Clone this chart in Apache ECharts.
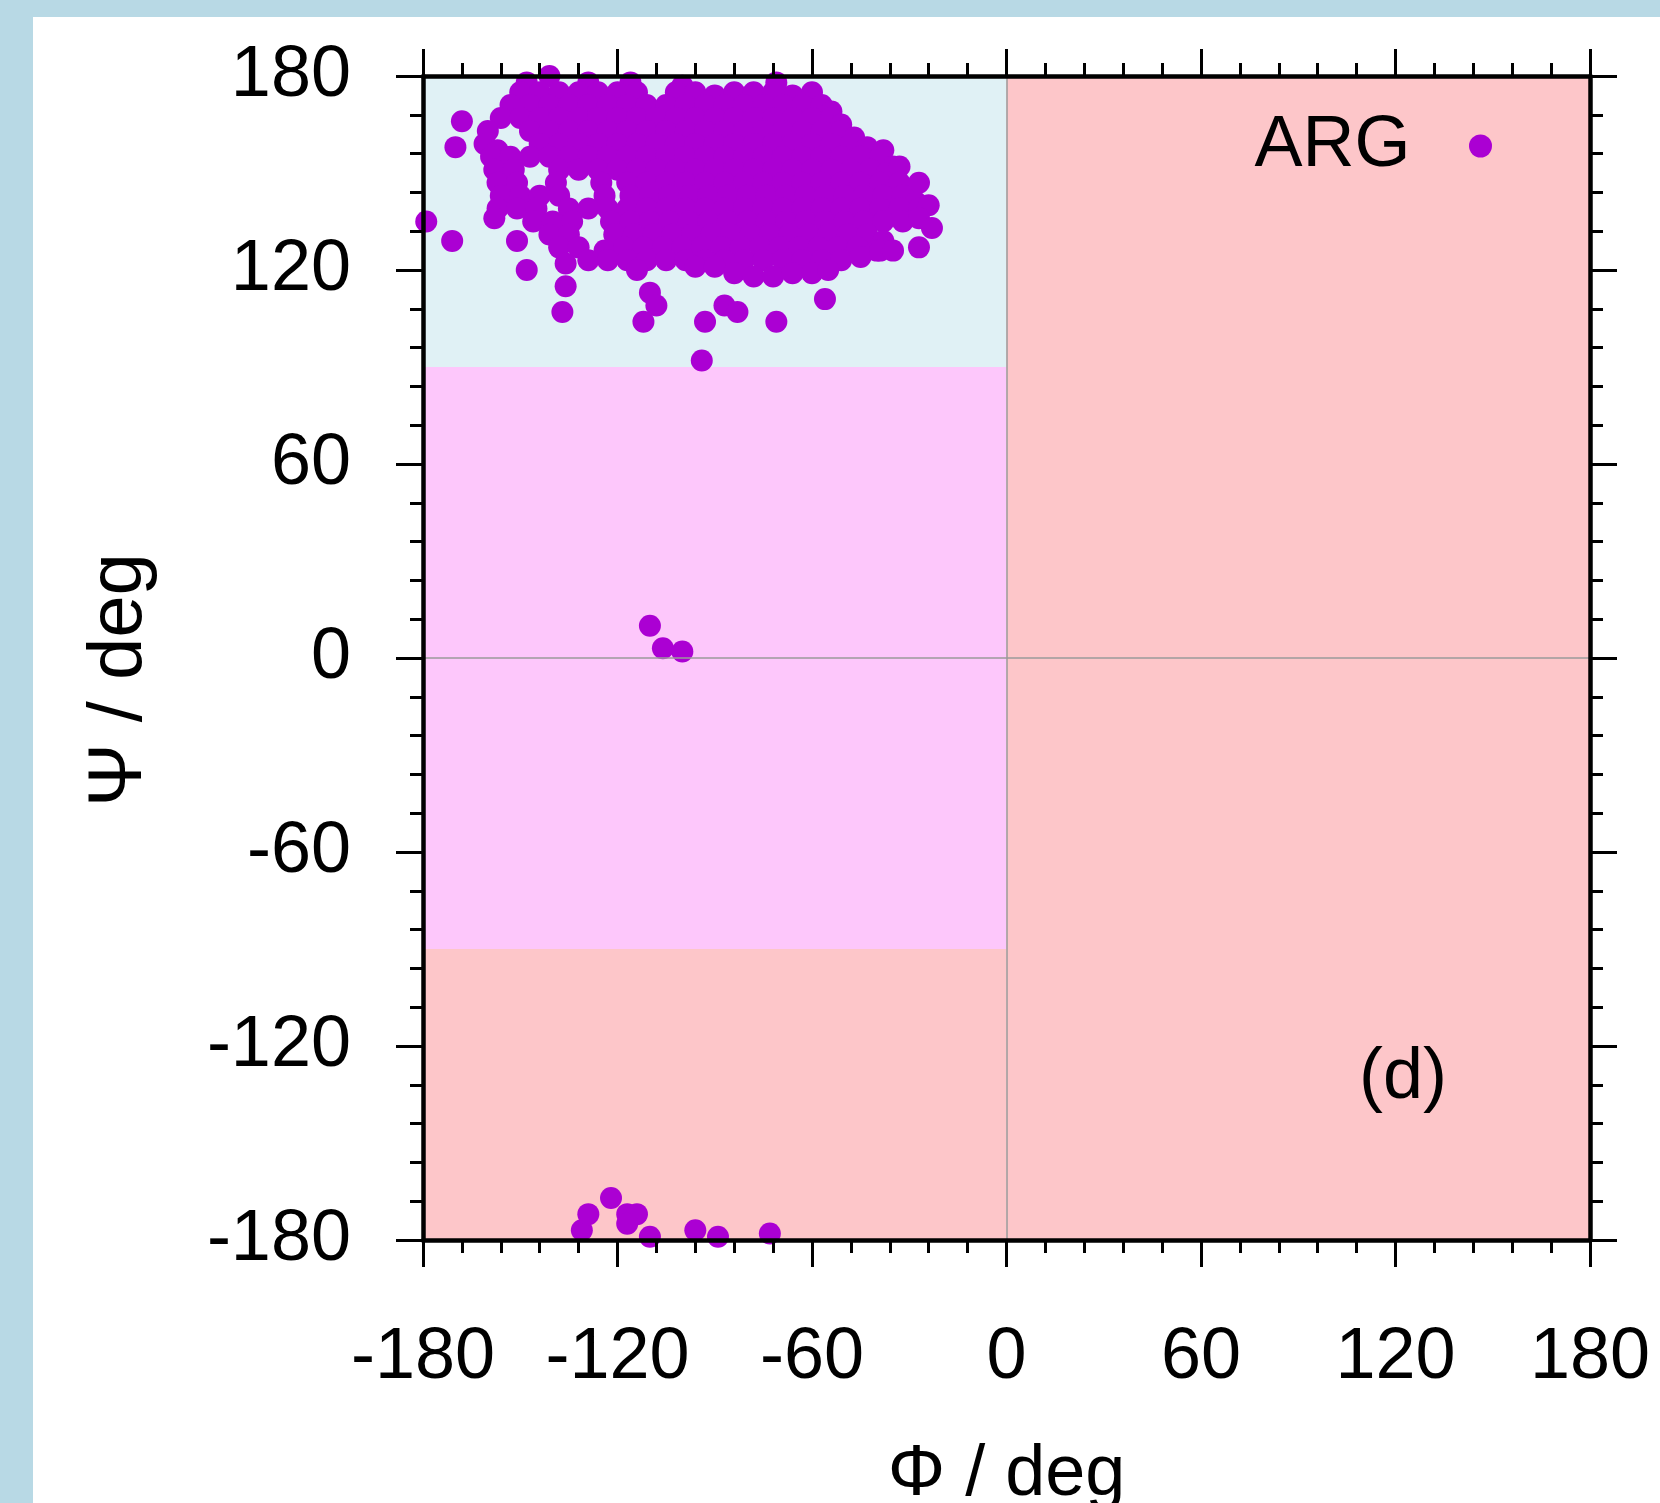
<!DOCTYPE html>
<html>
<head>
<meta charset="utf-8">
<title>ARG</title>
<script src="https://cdn.jsdelivr.net/npm/echarts@6.0.0/dist/echarts.min.js"></script>
<style>
  html, body { margin: 0; padding: 0; }
  body { width: 1660px; height: 1503px; background: #b8d9e5; position: relative; overflow: hidden; }
  #myChart { position: absolute; left: 33px; top: 17px; width: 1627px; height: 1486px; background: #fff; }
</style>
</head>
<body>
<div id="myChart"></div>
<script>
// phi / psi pairs, degrees
const betaCluster = [
  [-148,178],[-141,180],[-129,178],[-116,178],[-100,177],[-71,178],
  [-150,175],[-144,175],[-138,175],[-132,175],[-126,175],[-120,175],[-114,175],[-102,175],[-96,175],[-90,174],[-84,175],[-78,175],[-72,175],[-66,174],[-60,175],
  [-153,171],[-147,171],[-141,171],[-135,171],[-129,171],[-123,171],[-117,171],[-111,171],[-105,171],[-99,171],[-93,171],[-87,171],[-81,171],[-75,171],[-69,171],[-63,171],[-57,171],[-54,169],
  [-156,167],[-150,167],[-144,167],[-138,167],[-132,167],[-126,167],[-120,167],[-114,167],[-108,167],[-102,167],[-96,167],[-90,167],[-84,167],[-78,167],[-72,167],[-66,167],[-60,167],[-54,167],[-51,165],
  [-160,163],[-147,163],[-141,163],[-135,163],[-129,163],[-123,163],[-117,163],[-111,163],[-105,163],[-99,163],[-93,163],[-87,163],[-81,163],[-75,163],[-69,163],[-63,163],[-57,163],[-51,163],[-47,161],
  [-161,159],[-157,157],[-144,159],[-138,159],[-132,159],[-126,159],[-120,159],[-114,159],[-108,159],[-102,159],[-96,159],[-90,159],[-84,159],[-78,159],[-72,159],[-66,159],[-60,159],[-54,159],[-48,159],[-43,158],[-38,157],
  [-159,155],[-153,155],[-147,155],[-141,155],[-135,155],[-129,155],[-123,155],[-117,155],[-111,155],[-105,155],[-99,155],[-93,155],[-87,155],[-81,155],[-75,155],[-69,155],[-63,155],[-57,155],[-51,155],[-45,155],[-39,155],[-35,152],
  [-158,151],[-152,151],[-138,151],[-132,151],[-126,151],[-120,151],[-114,151],[-108,151],[-102,151],[-96,151],[-90,151],[-84,151],[-78,151],[-72,151],[-66,151],[-60,151],[-54,151],[-48,151],[-42,151],[-37,150],[-33,152],
  [-157,147],[-151,147],[-139,147],[-125,147],[-117,147],[-111,147],[-105,147],[-99,147],[-93,147],[-87,147],[-81,147],[-75,147],[-69,147],[-63,147],[-57,147],[-51,147],[-45,147],[-39,147],[-33,147],[-27,147],
  [-156,143],[-150,143],[-144,143],[-138,143],[-124,143],[-116,143],[-110,143],[-104,143],[-98,143],[-92,143],[-86,143],[-80,143],[-74,143],[-68,143],[-62,143],[-56,143],[-50,143],[-44,143],[-38,143],[-32,143],[-28,141],
  [-157,139],[-151,139],[-145,139],[-135,139],[-129,139],[-123,139],[-117,139],[-111,139],[-105,139],[-99,139],[-93,139],[-87,139],[-81,139],[-75,139],[-69,139],[-63,139],[-57,139],[-51,139],[-45,139],[-39,139],[-33,139],[-27,139],[-24,140],
  [-158,136],[-146,135],[-140,135],[-134,135],[-122,135],[-116,135],[-110,135],[-104,135],[-98,135],[-92,135],[-86,135],[-80,135],[-74,135],[-68,135],[-62,135],[-56,135],[-50,135],[-44,135],[-38,135],[-32,135],[-27,136],
  [-141,131],[-135,131],[-121,131],[-115,131],[-109,131],[-103,131],[-97,131],[-91,131],[-85,131],[-79,131],[-73,131],[-67,131],[-61,131],[-55,131],[-49,131],[-43,131],[-38,129],
  [-138,127],[-132,127],[-124,126],[-118,127],[-112,127],[-106,127],[-100,127],[-94,127],[-88,127],[-82,127],[-76,127],[-70,127],[-64,127],[-58,127],[-52,127],[-46,127],[-40,126],
  [-136,122],[-129,123],[-123,123],[-117,123],[-111,123],[-105,123],[-99,123],[-93,123],[-87,123],[-81,123],[-75,123],[-69,123],[-63,123],[-57,123],[-51,123],[-45,124],[-39,126],[-35,126],
  [-114,120],[-96,121],[-90,121],[-84,119],[-78,118],[-72,118],[-66,119],[-60,119],[-55,120]
];
const strayPoints = [
  [-168,166],[-170,158],[-179,135],[-171,129],[-151,129],[-148,120],[-136,115],[-137,107],
  [-110,113],[-108,109],[-112,104],[-93,104],[-87,109],[-83,107],[-71,104],[-94,92],[-56,111],[-27,127],[-23,133]
];
const alphaPoints = [[-110,10],[-106,3],[-100,2]];
const wrapPoints = [
  [-131,-177],[-129,-172],[-122,-167],[-117,-172],[-114,-172],[-117,-175],[-110,-179],[-96,-177],[-89,-179],[-73,-178]
];
// [phiMin, phiMax, psiMin, psiMax]
const regionBounds = [
  [-180, 0, 90, 180],
  [-180, 0, -90, 90],
  [-180, 0, -180, -90],
  [0, 180, -180, 180]
];
const regionColors = ['#e0f1f5', '#fdc7fb', '#fdc6c9', '#fdc6c9'];

const FONT = 'Liberation Sans, Arial, Helvetica, sans-serif';

function makeAxis(position, showLabel, extra) {
  return Object.assign({
    type: 'value',
    position: position,
    min: -180,
    max: 180,
    interval: 60,
    zlevel: 1,
    z: 10,
    axisLine: { show: true, onZero: false, lineStyle: { color: '#000', width: 4.5 } },
    axisTick: { show: true, inside: false, length: 27, lineStyle: { color: '#000', width: 3 } },
    minorTick: { show: true, splitNumber: 5, length: 13, lineStyle: { color: '#000', width: 3 } },
    splitLine: { show: false },
    axisLabel: { show: showLabel, fontSize: 72, color: '#000', fontFamily: FONT, margin: 72 }
  }, extra || {});
}

const myChart = echarts.init(document.getElementById('myChart'));

const option = {
  animation: false,
  grid: { left: 390, right: 70, top: 59, bottom: 263, containLabel: false, outerBoundsMode: 'none' },
  legend: {
    data: ['ARG'],
    right: 168,
    top: 89,
    padding: 0,
    align: 'right',
    icon: 'circle',
    itemWidth: 130,
    itemHeight: 23,
    z: 20,
    textStyle: { fontSize: 72, lineHeight: 80, color: '#000', fontFamily: FONT }
  },
  xAxis: [
    makeAxis('bottom', true, {
      name: 'Φ / deg',
      nameLocation: 'middle',
      nameGap: 199,
      nameTextStyle: { fontSize: 72, color: '#000', fontFamily: FONT },
      axisLabel: { show: true, fontSize: 72, color: '#000', fontFamily: FONT, margin: 82 }
    }),
    makeAxis('top', false)
  ],
  yAxis: [
    makeAxis('left', true, {
      name: 'Ψ / deg',
      nameLocation: 'middle',
      nameGap: 265,
      nameTextStyle: { fontSize: 76, color: '#000', fontFamily: FONT, padding: [0, 44, 0, 0] },
      axisLabel: { show: true, fontSize: 72, color: '#000', fontFamily: FONT, margin: 72, padding: [8, 0, 0, 0] }
    }),
    makeAxis('right', false)
  ],
  graphic: [{
    type: 'text',
    x: 1370,
    y: 1061,
    z: 100,
    style: { text: '(d)', fontSize: 72, fontFamily: FONT, fill: '#000', align: 'center', verticalAlign: 'middle' }
  }],
  series: [
    {
      name: 'regions',
      type: 'line',
      data: [],
      silent: true,
      z: 1,
      markArea: {
        silent: true,
        data: regionBounds.map((b, i) => [
          { xAxis: b[0], yAxis: b[2], itemStyle: { color: regionColors[i], opacity: 1 } },
          { xAxis: b[1], yAxis: b[3] }
        ])
      },
      markLine: {
        silent: true,
        symbol: ['none', 'none'],
        label: { show: false },
        lineStyle: { color: '#9a9a9a', width: 1.5, type: 'solid' },
        data: [{ xAxis: 0 }, { yAxis: 0 }]
      }
    },
    {
      name: 'ARG',
      type: 'scatter',
      z: 3,
      clip: false,
      symbol: 'circle',
      symbolSize: 22,
      itemStyle: { color: '#ab00d3', opacity: 1 },
      data: betaCluster.concat(strayPoints, alphaPoints, wrapPoints)
    }
  ]
};

myChart.setOption(option);
</script>
</body>
</html>
